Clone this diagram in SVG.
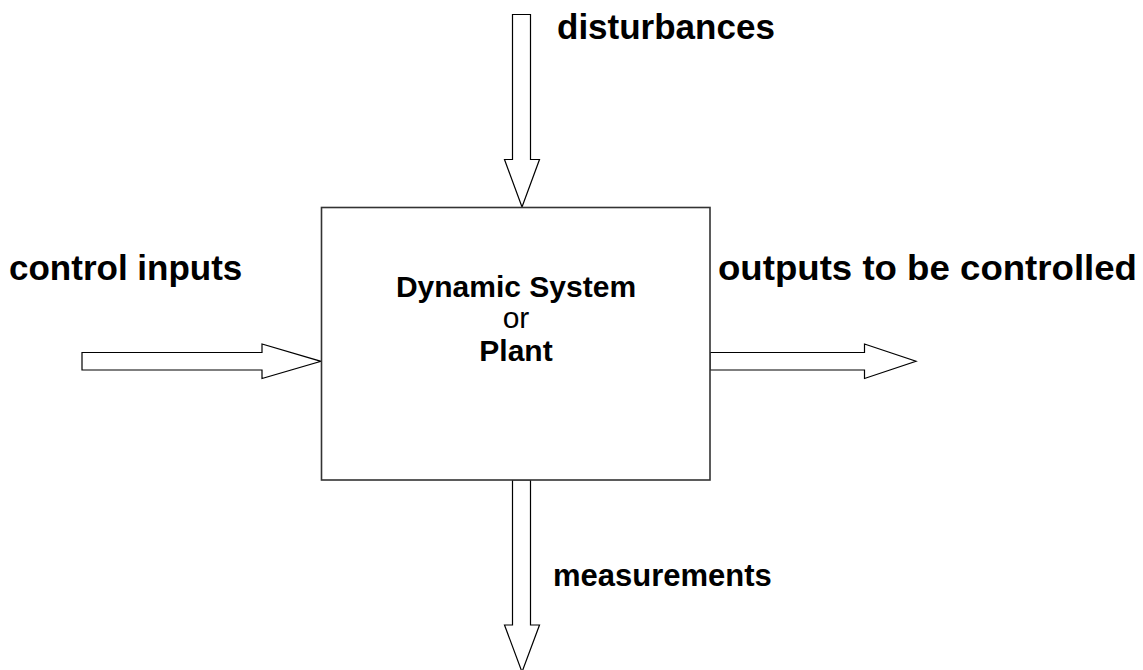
<svg xmlns="http://www.w3.org/2000/svg" width="1143" height="670" viewBox="0 0 1143 670">
  <style>
    .arrow { fill: #ffffff; stroke: #000000; stroke-width: 1.2; stroke-linejoin: miter; }
    .box { fill: #ffffff; stroke: #333333; stroke-width: 1.6; }
    .lbl { font-family: "Liberation Sans", Arial, sans-serif; font-size: 30px; font-weight: bold; fill: #000000; }
    .big { font-size: 35px; }
    .mid { text-anchor: middle; }
    .plain { font-weight: normal; }
  </style>
  <rect width="1143" height="670" fill="#ffffff"/>

  <!-- block arrows in and out of the plant -->
  <g id="connectors">
    <polygon id="arrow-disturbances" class="arrow" points="512.5,14.5 530.5,14.5 530.5,159.5 539.5,159.5 522,207 504.5,159.5 512.5,159.5"/>
    <polygon id="arrow-control" class="arrow" points="82,352.5 262,352.5 262,344 321,361.3 262,378.5 262,370 82,370"/>
    <polygon id="arrow-outputs" class="arrow" points="710,352.5 864.5,352.5 864.5,344 916,361.3 864.5,378.5 864.5,370 710,370"/>
    <polygon id="arrow-measurements" class="arrow" points="512.5,480 530.5,480 530.5,625 539.5,625 522,672 504.5,625 512.5,625"/>
  </g>

  <!-- the plant block -->
  <g id="plant">
    <rect class="box" x="321.5" y="207.5" width="388.5" height="272.5"/>
    <text class="lbl mid" x="516" y="297">Dynamic System</text>
    <text class="lbl mid plain" x="516" y="328">or</text>
    <text class="lbl mid" x="516" y="361">Plant</text>
  </g>

  <g id="label-disturbances">
    <text class="lbl big" x="557" y="39">disturbances</text>
  </g>
  <g id="label-control">
    <text class="lbl big" x="9" y="280">control inputs</text>
  </g>
  <g id="label-outputs">
    <text class="lbl big" x="718" y="280" textLength="419" lengthAdjust="spacingAndGlyphs">outputs to be controlled</text>
  </g>
  <g id="label-measurements">
    <text class="lbl" x="553" y="586" style="font-size:31px">measurements</text>
  </g>
</svg>
